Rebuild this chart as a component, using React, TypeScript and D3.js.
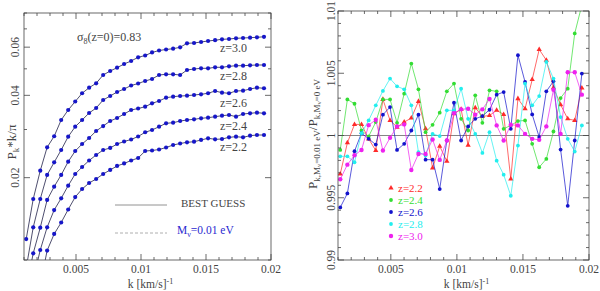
import React from 'react';
import * as d3 from 'd3';

// k grid shared by both panels, [km/s]^-1
const kValues = [
  0.00117, 0.00171, 0.00225, 0.00278, 0.00332, 0.00386, 0.0044, 0.00494, 0.00547, 0.00601,
  0.00655, 0.00709, 0.00763, 0.00816, 0.0087, 0.00924, 0.00978, 0.01032, 0.01085, 0.01139,
  0.01193, 0.01247, 0.01301, 0.01354, 0.01408, 0.01462, 0.01516, 0.0157, 0.01623, 0.01677,
  0.01731, 0.01785, 0.01839, 0.01892, 0.01946,
];

const zLabels = ['z=2.2', 'z=2.4', 'z=2.6', 'z=2.8', 'z=3.0'];

// left panel: P_k * k / pi
const pk22 = [
  0.0038, 0.00578, 0.0081, 0.01083, 0.01245, 0.01371, 0.0153, 0.01699, 0.01818, 0.01912,
  0.01978, 0.02063, 0.02134, 0.02207, 0.02254, 0.02311, 0.0236, 0.02503, 0.02514, 0.02535,
  0.02578, 0.02633, 0.02667, 0.02693, 0.02707, 0.02747, 0.02786, 0.02762, 0.02769, 0.02809,
  0.02824, 0.02809, 0.02848, 0.02864, 0.02864,
];
const pk24 = [
  0.00603, 0.00845, 0.01088, 0.01317, 0.01523, 0.01681, 0.0187, 0.02063, 0.02188, 0.02311,
  0.02421, 0.02525, 0.02568, 0.02655, 0.02712, 0.02758, 0.02829, 0.02931, 0.02988, 0.03072,
  0.03161, 0.03177, 0.03222, 0.0325, 0.03269, 0.03297, 0.03314, 0.03342, 0.0337, 0.0339,
  0.03342, 0.03418, 0.03439, 0.03457, 0.03439,
];
const pk26 = [
  0.0079, 0.01058, 0.01313, 0.01658, 0.01854, 0.02046, 0.02288, 0.02503, 0.02655, 0.02793,
  0.02962, 0.03089, 0.03222, 0.03305, 0.03418, 0.03535, 0.0358, 0.03635, 0.0374, 0.03814,
  0.03921, 0.03955, 0.03978, 0.03988, 0.04012, 0.04035, 0.0407, 0.04149, 0.04091, 0.0407,
  0.04149, 0.04159, 0.04219, 0.04266, 0.04245,
];
const pk28 = [
  0.00935, 0.01317, 0.01671, 0.02046, 0.02276, 0.02525, 0.02824, 0.03072, 0.0325, 0.03447,
  0.03595, 0.03846, 0.03978, 0.04114, 0.04219, 0.04345, 0.04419, 0.04513, 0.0459, 0.04747,
  0.04775, 0.04775, 0.04747, 0.04951, 0.04993, 0.05022, 0.05022, 0.05065, 0.05065, 0.05107,
  0.05133, 0.05133, 0.05151, 0.05164, 0.05164,
];
const pk30 = [
  0.01193, 0.01671, 0.02121, 0.02583, 0.02834, 0.0325, 0.03535, 0.03798, 0.0407, 0.04266,
  0.04427, 0.04747, 0.04909, 0.05048, 0.05207, 0.05341, 0.0551, 0.05594, 0.05738, 0.05834,
  0.05884, 0.05924, 0.05994, 0.06199, 0.06215, 0.06268, 0.0632, 0.06364, 0.06411, 0.06427,
  0.06466, 0.06482, 0.06499, 0.06521, 0.06548,
];

// right panel: P(M_nu=0.01 eV) / P(M_nu=0 eV)
const ratio22 = [
  0.99691, 0.99941, 1.00089, 1.00089, 0.99973, 0.99879, 1.0029, 1.00121, 1.00067, 1.00108,
  1.0014, 1.00274, 1.00054, 0.99739, 0.99914, 0.99793, 1.00175, 1.0021, 0.99922, 1.00223,
  1.00153, 1.00161, 1.00202, 1.00169, 0.99651, 1.00296, 1.00215, 1.00449, 1.00691, 1.00605,
  1.00384, 1.00247, 1.00134, 1.00121, 1.00382,
];
const ratio24 = [
  0.99884, 1.0029, 1.00255, 1.0004, 0.99992, 1.00108, 1.0029, 1.0029, 1.00102, 1.00336,
  1.00578, 1.00371, 1.00027, 1.00086, 1.00183, 1.00355, 1.00417, 1.00134, 1.0004, 1.00323,
  1.00102, 1.00363, 1.00355, 1.00054, 1.00081, 1.00116, 1.00121, 0.99933, 0.99745, 0.99812,
  1.00032, 1.00301, 1.00376, 1.0082, 1.01048,
];
const ratio26 = [
  0.99422, 0.99535, 0.99874, 1.00019, 0.99973, 0.99927, 1.00167, 1.00228, 0.99884, 0.99933,
  1.0004, 1.00167, 0.99806, 0.99806, 0.9957, 0.9996, 1.00263, 0.9996, 1.00073, 1.00134,
  1.00156, 1.00207, 1.00328, 1.00349, 1.00054, 1.00645, 1.0043, 1.00169, 0.99987, 1.00355,
  1.00435, 0.99887, 0.99435, 0.9996, 1.00497,
];
const ratio28 = [
  0.99833, 0.99833, 0.99785, 1.00019, 1.00121, 1.00242, 1.00358, 1.00457, 1.00395, 1.00371,
  1.00242, 0.99866, 0.99839, 1.00013, 0.99995, 1.00202, 1.00202, 1.00376, 1.00134, 1.00013,
  0.9986, 1.00027, 0.99798, 0.99685, 0.99516, 0.99919, 1.00417, 1.00242, 1.00317, 1.00591,
  1.00457, 1.00148, 0.99973, 0.99871, 1.00081,
];
const ratio30 = [
  0.99648, 0.99766, 0.99841, 0.99884, 1.00083, 1.00126, 0.99879, 0.99981, 1.00073, 1.00089,
  0.99723, 0.99852, 0.99852, 0.99968, 0.99804, 0.9996, 1.0018, 1.0021, 1.00215, 1.00167,
  1.0021, 1.00293, 1.00081, 0.9996, 1.00086, 1.00081, 1.00013, 0.99973, 0.99965, 1.00073,
  1.00368, 1.00013, 1.00508, 1.00508, 1.00328,
];

const xTickLabels = [0.005, 0.01, 0.015, 0.02];
const pkTickLabels = [0.02, 0.04, 0.06];
const ratioTickLabels = [0.99, 0.995, 1, 1.005, 1.01];

const pkSeries = [pk22, pk24, pk26, pk28, pk30];
const ratioSeries = [ratio22, ratio24, ratio26, ratio28, ratio30];
const ratioColors = ['#ff2a2a', '#33dd33', '#1212cc', '#22eeee', '#ee22ee'];

const FONT = 'Liberation Serif, DejaVu Serif, serif';
const INK = '#444';

// scales
const xL = d3.scaleLinear().domain([0.001, 0.02]).range([24, 271]);
const yL = d3.scaleLog().domain([0.01, 0.08]).range([260, 13]);
const xR = d3.scaleLinear().domain([0.001, 0.02]).range([338, 589]);
const yR = d3.scaleLinear().domain([0.99, 1.01]).range([260, 11]);

const fmt = (v) => String(+v.toFixed(4));

function Frame({ x, y, yTicks, yMajor }) {
  const [x0, x1] = x.range();
  const [y0, y1] = y.range();
  const xMinor = d3.range(1, 21).map((d) => d / 1000);
  return (
    <g stroke={INK} strokeWidth={0.8} fill="none">
      <rect x={x0} y={y1} width={x1 - x0} height={y0 - y1} />
      {xMinor.map((t) => {
        const len = Math.abs(t * 1000 % 5) < 1e-6 ? 6 : 3;
        return (
          <g key={'x' + t}>
            <line x1={x(t)} x2={x(t)} y1={y0} y2={y0 - len} />
            <line x1={x(t)} x2={x(t)} y1={y1} y2={y1 + len} />
          </g>
        );
      })}
      {yTicks.map((t) => {
        const len = yMajor.some((m) => Math.abs(m - t) < 1e-9) ? 6 : 3;
        return (
          <g key={'y' + t}>
            <line x1={x0} x2={x0 + len} y1={y(t)} y2={y(t)} />
            <line x1={x1} x2={x1 - len} y1={y(t)} y2={y(t)} />
          </g>
        );
      })}
    </g>
  );
}

function XLabels({ x }) {
  const [x0, x1] = x.range();
  return (
    <g fontFamily={FONT} fill={INK}>
      {xTickLabels.map((t) => (
        <text key={t} x={x(t)} y={273} fontSize={11.5} textAnchor="middle">{fmt(t)}</text>
      ))}
      <text x={(x0 + x1) / 2 + 3} y={288} fontSize={11.5} textAnchor="middle">
        k [km/s]<tspan dy={-4} fontSize={8}>-1</tspan>
      </text>
    </g>
  );
}

function LeftPanel() {
  const line = d3.line().x((_, i) => xL(kValues[i])).y((d) => yL(d));
  const yTicks = d3.range(1, 9).map((d) => d / 100);
  return (
    <g>
      <defs>
        <clipPath id="clipL">
          <rect x={24} y={13} width={247} height={247} />
        </clipPath>
      </defs>
      <g clipPath="url(#clipL)">
        {pkSeries.map((s, j) => (
          <g key={zLabels[j]}>
            <path d={line(s)} fill="none" stroke="#22224a" strokeWidth={0.8} />
            {s.map((v, i) => (
              <circle key={i} cx={xL(kValues[i])} cy={yL(v)} r={2.1} fill="#1616c8" />
            ))}
          </g>
        ))}
      </g>
      <Frame x={xL} y={yL} yTicks={yTicks} yMajor={pkTickLabels} />
      <XLabels x={xL} />
      <g fontFamily={FONT} fill={INK} fontSize={11.5}>
        {pkTickLabels.map((t) => (
          <text key={t} transform={`translate(15, ${yL(t)}) rotate(-90)`} textAnchor="middle" dy="0.35em">
            {fmt(t)}
          </text>
        ))}
        <text transform="translate(11, 142) rotate(-90)" textAnchor="middle" dy="0.35em" fontSize={13}>
          P<tspan dy={3} fontSize={9}>k</tspan><tspan dy={-3}>*k/π</tspan>
        </text>
        <text x={77} y={41} fontSize={12}>
          σ<tspan dy={3} fontSize={8}>8</tspan><tspan dy={-3}>(z=0)=0.83</tspan>
        </text>
        {[151, 130, 107, 80, 52].map((yy, j) => (
          <text key={zLabels[j]} x={220} y={yy} fontSize={12}>{zLabels[j]}</text>
        ))}
        <line x1={115} x2={167} y1={205} y2={205} stroke="#777" strokeWidth={0.8} />
        <text x={181} y={206.5} fontSize={11}>BEST GUESS</text>
        <line x1={115} x2={167} y1={233} y2={233} stroke="#999" strokeWidth={0.8} strokeDasharray="3,2" />
        <text x={177} y={234} fontSize={11.5} fill="#2a2ad0">
          M<tspan dy={3} fontSize={8}>ν</tspan><tspan dy={-3}>=0.01 eV</tspan>
        </text>
      </g>
    </g>
  );
}

function Marker({ j, x, y, color }) {
  if (j === 0) {
    const d = d3.symbol(d3.symbolTriangle, 12)();
    return <path d={d} transform={`translate(${x},${y})`} fill={color} />;
  }
  return <circle cx={x} cy={y} r={j === 4 ? 2.2 : 1.9} fill={color} />;
}

function RightPanel() {
  const line = d3.line().x((_, i) => xR(kValues[i])).y((d) => yR(d));
  const yTicks = d3.range(0, 21).map((d) => 0.99 + d / 1000);
  return (
    <g>
      <defs>
        <clipPath id="clipR">
          <rect x={338} y={11} width={251} height={249} />
        </clipPath>
      </defs>
      <line x1={338} x2={589} y1={yR(1)} y2={yR(1)} stroke="#666" strokeWidth={0.8} />
      <g clipPath="url(#clipR)">
        {ratioSeries.map((s, j) => (
          <g key={zLabels[j]}>
            <path d={line(s)} fill="none" stroke={ratioColors[j]} strokeWidth={0.7} />
            {s.map((v, i) => (
              <Marker key={i} j={j} x={xR(kValues[i])} y={yR(v)} color={ratioColors[j]} />
            ))}
          </g>
        ))}
      </g>
      <Frame x={xR} y={yR} yTicks={yTicks} yMajor={ratioTickLabels} />
      <XLabels x={xR} />
      <g fontFamily={FONT} fill={INK} fontSize={11.5}>
        {ratioTickLabels.map((t) => (
          <text key={t} transform={`translate(331, ${yR(t)}) rotate(-90)`} textAnchor="middle" dy="0.35em">
            {fmt(t)}
          </text>
        ))}
        <text transform="translate(312, 134) rotate(-90)" textAnchor="middle" dy="0.35em" fontSize={13}>
          P<tspan dy={3} fontSize={9}>k,M</tspan><tspan dy={1.5} fontSize={7}>ν</tspan>
          <tspan dy={-1.5} fontSize={9}>=0.01 eV</tspan>
          <tspan dy={-3}>/P</tspan><tspan dy={3} fontSize={9}>k,M</tspan>
          <tspan dy={1.5} fontSize={7}>ν</tspan><tspan dy={-1.5} fontSize={9}>=0 eV</tspan>
        </text>
        {[188, 200, 212, 224, 236].map((yy, j) => (
          <g key={zLabels[j]}>
            <Marker j={j} x={391} y={yy} color={ratioColors[j]} />
            <text x={398} y={yy} dy="0.35em" fontSize={11} fill={ratioColors[j]}>{zLabels[j]}</text>
          </g>
        ))}
      </g>
    </g>
  );
}

export default function App() {
  return (
    <svg width={600} height={291} style={{ position: 'absolute', left: 0, top: 0, background: '#fff' }}>
      <LeftPanel />
      <RightPanel />
    </svg>
  );
}
